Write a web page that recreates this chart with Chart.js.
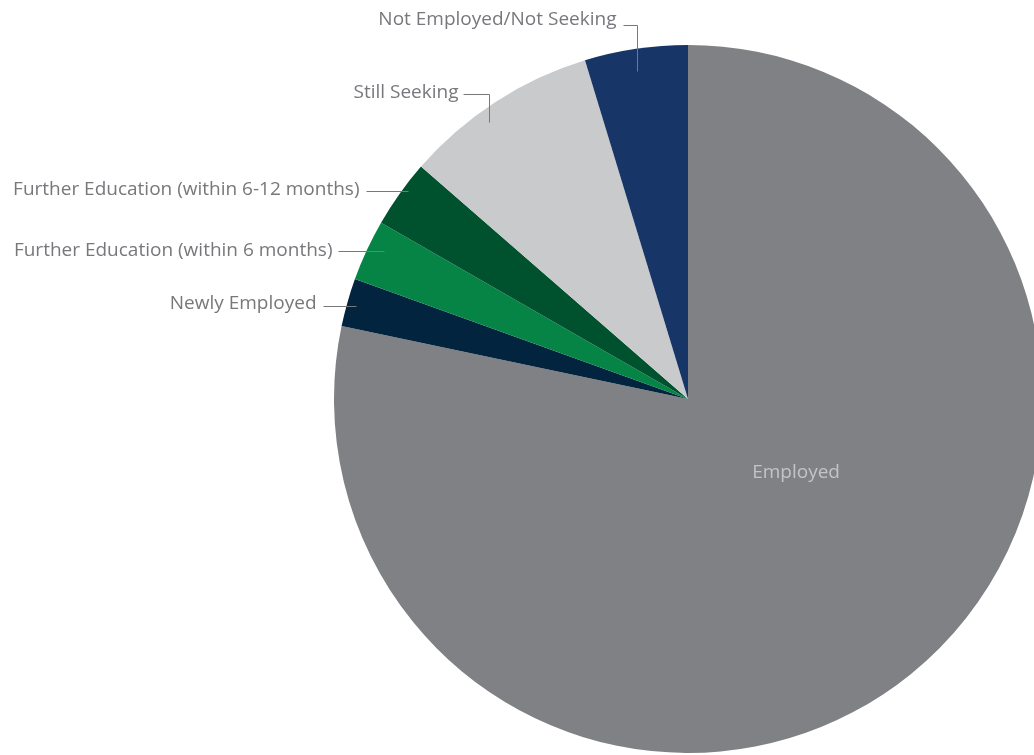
<!DOCTYPE html>
<html>
<head>
<meta charset="utf-8">
<script src="https://cdn.jsdelivr.net/npm/chart.js@4.4.1/dist/chart.umd.min.js"></script>
<style>
  html, body { margin: 0; padding: 0; background: #fff; overflow: hidden; }
  #wrap { position: relative; width: 1100px; height: 755px; }
</style>
</head>
<body>
<div id="wrap"><canvas id="outcomes"></canvas></div>
<script>
// Data — share of graduates by outcome (%)
const categories = [
  'Employed',
  'Newly Employed',
  'Further Education (within 6 months)',
  'Further Education (within 6-12 months)',
  'Still Seeking',
  'Not Employed/Not Seeking'
];
const shares = [78.3, 2.2, 2.8, 3.1, 8.9, 4.7];

const sliceColors = ['#808185', '#03243f', '#068445', '#00522f', '#c9cacc', '#173567'];
const textGray = '#77787c';

// Label placement per slice (relative to the drawn arc)
//   inside: text inside slice at angle/radius fraction
//   left:   horizontal leader from slice to the text on the left
//   up:     leader goes up from slice then left to the text
// shift = degrees off the slice's mid angle where the leader starts
const labelLayout = [
  { mode: 'inside', deg: 34.4, f: 0.37, color: '#c3c4c7' },
  { mode: 'left', f: 0.975, shift: -0.2, run: 33, gap: 7, dy: -3 },
  { mode: 'left', f: 0.955, shift: 1.1, run: 46, gap: 6, dy: -1 },
  { mode: 'left', f: 0.985, shift: 1.2, run: 42, gap: 7, dy: -2 },
  { mode: 'up', f: 0.963, shift: -2.7, rise: 28, run: 26, gap: 5, dy: -2 },
  { mode: 'up', f: 0.937, shift: -0.4, rise: 46, run: 14, gap: 7, dy: -6 }
];

const FONT = '19px "Open Sans", sans-serif';

const leaderLabels = {
  id: 'leaderLabels',
  afterDatasetsDraw (chart) {
    const ctx = chart.ctx;
    const arcs = chart.getDatasetMeta(0).data;
    ctx.save();
    ctx.font = FONT;
    ctx.textBaseline = 'middle';
    ctx.lineWidth = 1;

    arcs.forEach((arc, i) => {
      const lay = labelLayout[i];
      const { x, y, startAngle, endAngle, outerRadius } = arc.getProps(['x', 'y', 'startAngle', 'endAngle', 'outerRadius'], true);
      const label = categories[i];

      if (lay.mode === 'inside') {
        const a = lay.deg * Math.PI / 180;
        ctx.fillStyle = lay.color;
        ctx.textAlign = 'center';
        ctx.fillText(label, x + Math.cos(a) * outerRadius * lay.f, y + Math.sin(a) * outerRadius * lay.f);
        return;
      }

      const mid = (startAngle + endAngle) / 2 + lay.shift * Math.PI / 180;
      const px = Math.round(x + Math.cos(mid) * outerRadius * lay.f) + 0.5;
      const py = Math.round(y + Math.sin(mid) * outerRadius * lay.f) + 0.5;
      ctx.strokeStyle = textGray;
      ctx.fillStyle = textGray;
      ctx.textAlign = 'right';
      ctx.beginPath();
      let tx, ty;
      if (lay.mode === 'left') {
        ctx.moveTo(px, py);
        ctx.lineTo(px - lay.run, py);
        tx = px - lay.run - lay.gap;
        ty = py + lay.dy;
      } else {
        ctx.moveTo(px, py);
        ctx.lineTo(px, py - lay.rise);
        ctx.lineTo(px - lay.run, py - lay.rise);
        tx = px - lay.run - lay.gap;
        ty = py - lay.rise + lay.dy;
      }
      ctx.stroke();
      ctx.fillText(label, tx, ty);
    });
    ctx.restore();
  }
};

new Chart(document.getElementById('outcomes'), {
  type: 'pie',
  data: {
    labels: categories,
    datasets: [{
      data: shares,
      backgroundColor: sliceColors,
      borderWidth: 0
    }]
  },
  options: {
    responsive: true,
    maintainAspectRatio: false,
    animation: false,
    layout: { padding: { left: 334, right: 58, top: 45, bottom: 2 } },
    plugins: {
      legend: { display: false },
      tooltip: { enabled: false }
    }
  },
  plugins: [leaderLabels]
});
</script>
</body>
</html>
